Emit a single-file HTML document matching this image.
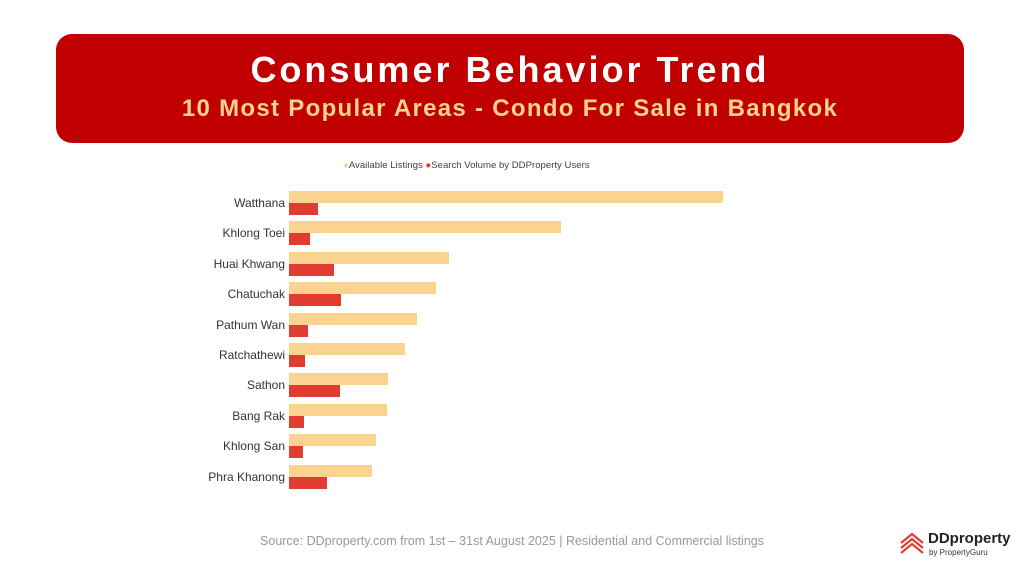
<!DOCTYPE html>
<html><head><style>
body{margin:0;width:1024px;height:576px;background:#fff;position:relative;overflow:hidden;font-family:"Liberation Sans",sans-serif}
.hdr{position:absolute;left:56px;top:34px;width:908px;height:109px;background:#c00000;border-radius:16px;text-align:center}
.t1{position:absolute;top:48px;width:100%;color:#fff;font-weight:bold;font-size:36px;line-height:44px;letter-spacing:3px}
.t2{position:absolute;top:94px;width:100%;color:#fcd38a;font-weight:bold;font-size:24px;line-height:30px;letter-spacing:1.3px}
.b{position:absolute;left:289px;height:12px}
.o{background:#f9d38f}.r{background:#e03c31}
.l{position:absolute;right:739px;font-size:12px;color:#333;line-height:14px}
.src{position:absolute;top:534px;width:100%;left:0;text-align:center;font-size:12.5px;color:#999}
</style></head><body>
<div class="hdr"></div>
<div class="t1" style="left:0;width:1020px;text-align:center">Consumer Behavior Trend</div>
<div class="t2" style="left:0;width:1020px;text-align:center">10 Most Popular Areas - Condo For Sale in Bangkok</div>
<div style="position:absolute;top:160px;left:343px;font-size:9.6px;color:#444;white-space:nowrap"><span style="color:#f9d38f">●</span>Available Listings <span style="color:#e03c31">●</span>Search Volume by DDProperty Users</div>
<div id="c"></div>
<div class="src">Source: DDproperty.com from 1st – 31st August 2025 | Residential and Commercial listings</div>
<svg style="position:absolute;left:898px;top:531px" width="28" height="26" viewBox="0 0 28 26"><g fill="none" stroke="#e03c31" stroke-width="2.2"><path d="M3 12L14 3L25 12"/><path d="M3 17L14 8L25 17"/><path d="M3 22L14 13L25 22"/></g></svg>
<div style="position:absolute;left:928px;top:530px;font-size:15px;font-weight:bold;color:#222">DDproperty</div>
<div style="position:absolute;left:929px;top:548px;font-size:8px;color:#333">by PropertyGuru</div>
<script>
var n=["Watthana","Khlong Toei","Huai Khwang","Chatuchak","Pathum Wan","Ratchathewi","Sathon","Bang Rak","Khlong San","Phra Khanong"];
var o=[723,561,449,436,417,405,388,387,376,372],r=[318,310,334,341,308,305,340,304,303,327],h="";
for(var i=0;i<10;i++){var y=191+i*30.4;
h+='<div class="b o" style="top:'+y+'px;width:'+(o[i]-289)+'px"></div><div class="b r" style="top:'+(y+12)+'px;width:'+(r[i]-289)+'px"></div><div class="l" style="top:'+(y+5)+'px">'+n[i]+'</div>';}
document.getElementById("c").innerHTML=h;
</script>
</body></html>
